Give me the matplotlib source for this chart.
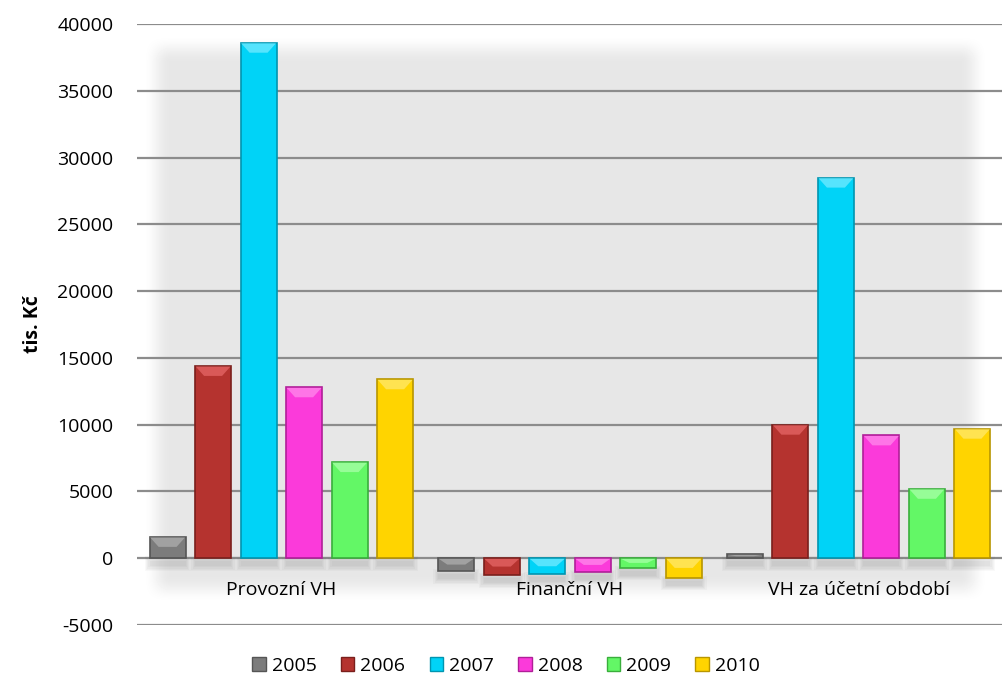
import matplotlib
matplotlib.use("Agg")
import matplotlib.pyplot as plt
import numpy as np
from matplotlib.patches import Patch, Polygon

categories = ["Provozní VH", "Finanční VH", "VH za účetní období"]
years = ["2005", "2006", "2007", "2008", "2009", "2010"]
values = {
    "2005": [1600, -950, 300],
    "2006": [14400, -1250, 10000],
    "2007": [38600, -1200, 28500],
    "2008": [12800, -1000, 9200],
    "2009": [7200, -700, 5200],
    "2010": [13400, -1450, 9700],
}
colors = ["#7c7c7c", "#b5332f", "#00d3f7", "#fb3ada", "#63f766", "#ffd400"]
edges = ["#555555", "#7a1f1c", "#0095b0", "#b01f98", "#3aae3c", "#b89600"]
lights = ["#a8a8a8", "#e06060", "#66e8ff", "#ff80ea", "#a0ffa0", "#ffe660"]
yticks = np.arange(-5000, 40001, 5000)

plt.rcParams["font.family"] = ["Open Sans", "DejaVu Sans"]

W, H = 1003, 679
fig = plt.figure(figsize=(W / 100, H / 100), dpi=100)
ax_l, ax_r, ax_t, ax_b = 137, 1003, 24, 625
ax = fig.add_axes([ax_l / W, 1 - ax_b / H, (ax_r - ax_l) / W, (ax_b - ax_t) / H])
ax.set_xlim(-0.5, 2.5)
ax.set_ylim(-5000, 40000)

# soft grey panel behind the plot
pw, ph = ax_r - ax_l, ax_b - ax_t
xx = np.arange(pw)[None, :]
yy = np.arange(ph)[:, None]


def ramp(d, w=28.0):
    t = np.clip(d / w, 0, 1)
    return t * t * (3 - 2 * t)


mask = ramp(xx - 5) * ramp(pw - 15 - xx) * ramp(yy - 10) * ramp(ph - 22 - yy)
shade = 1.0 - 0.095 * mask
ax.imshow(shade, cmap="gray", vmin=0, vmax=1, extent=(0, 1, 0, 1),
          transform=ax.transAxes, aspect="auto", zorder=0, interpolation="bilinear")

for yv in yticks:
    ax.axhline(yv, color="#8c8c8c", lw=1.6, zorder=1)

slot = 45.5 / pw * 3
bw = 36 / pw * 3
x = np.arange(len(categories))
py = (ax.get_ylim()[1] - ax.get_ylim()[0]) / ph
px = 3.0 / pw

for i, yr in enumerate(years):
    xs = x + (i - 2.5) * slot
    vals = np.array(values[yr])
    # soft shadow under each bar
    for xc, v in zip(xs, vals):
        base = min(v, 0)
        for k in range(5):
            e = k * 1.2
            ax.add_patch(Polygon([(xc - bw / 2 - e * px, base - (3 - e) * py),
                                  (xc + bw / 2 + e * px, base - (3 - e) * py),
                                  (xc + bw / 2 + e * px, base - (8 + e) * py),
                                  (xc - bw / 2 - e * px, base - (8 + e) * py)],
                                 closed=True, facecolor="#000000", alpha=0.025, lw=0, zorder=2))
    ax.bar(xs, vals, width=bw, color=colors[i], edgecolor=edges[i], lw=1.2, zorder=3)
    for xc, v in zip(xs, vals):
        top = max(v, 0)
        hgt = min(10 * py, abs(v) / 2)
        d = 9 * px
        ax.add_patch(Polygon([(xc - bw / 2 + px * 0.6, top - py * 0.6), (xc + bw / 2 - px * 0.6, top - py * 0.6),
                              (xc + bw / 2 - d, top - hgt), (xc - bw / 2 + d, top - hgt)],
                             closed=True, facecolor=lights[i], lw=0, alpha=0.85, zorder=4))

for xc, lab in zip(x, categories):
    ax.text(xc, -2350, lab, ha="center", va="center", fontsize=14, color="#000000", zorder=5)

ax.set_xticks([])
ax.set_yticks(yticks)
ax.set_yticklabels([str(v) for v in yticks], fontsize=14)
ax.tick_params(axis="y", length=0, pad=17)
for s in ax.spines.values():
    s.set_visible(False)
ax.set_ylabel("tis. Kč", fontsize=14, fontweight="bold", labelpad=10)

handles = [Patch(facecolor=c, edgecolor=e, label=y) for c, e, y in zip(colors, edges, years)]
fig.legend(handles=handles, loc="center", bbox_to_anchor=(506 / W, 1 - 666 / H), ncol=6,
           frameon=False, fontsize=14, handlelength=0.7, handleheight=0.7,
           handletextpad=0.3, columnspacing=1.25)

fig.savefig("out.png", dpi=100)
